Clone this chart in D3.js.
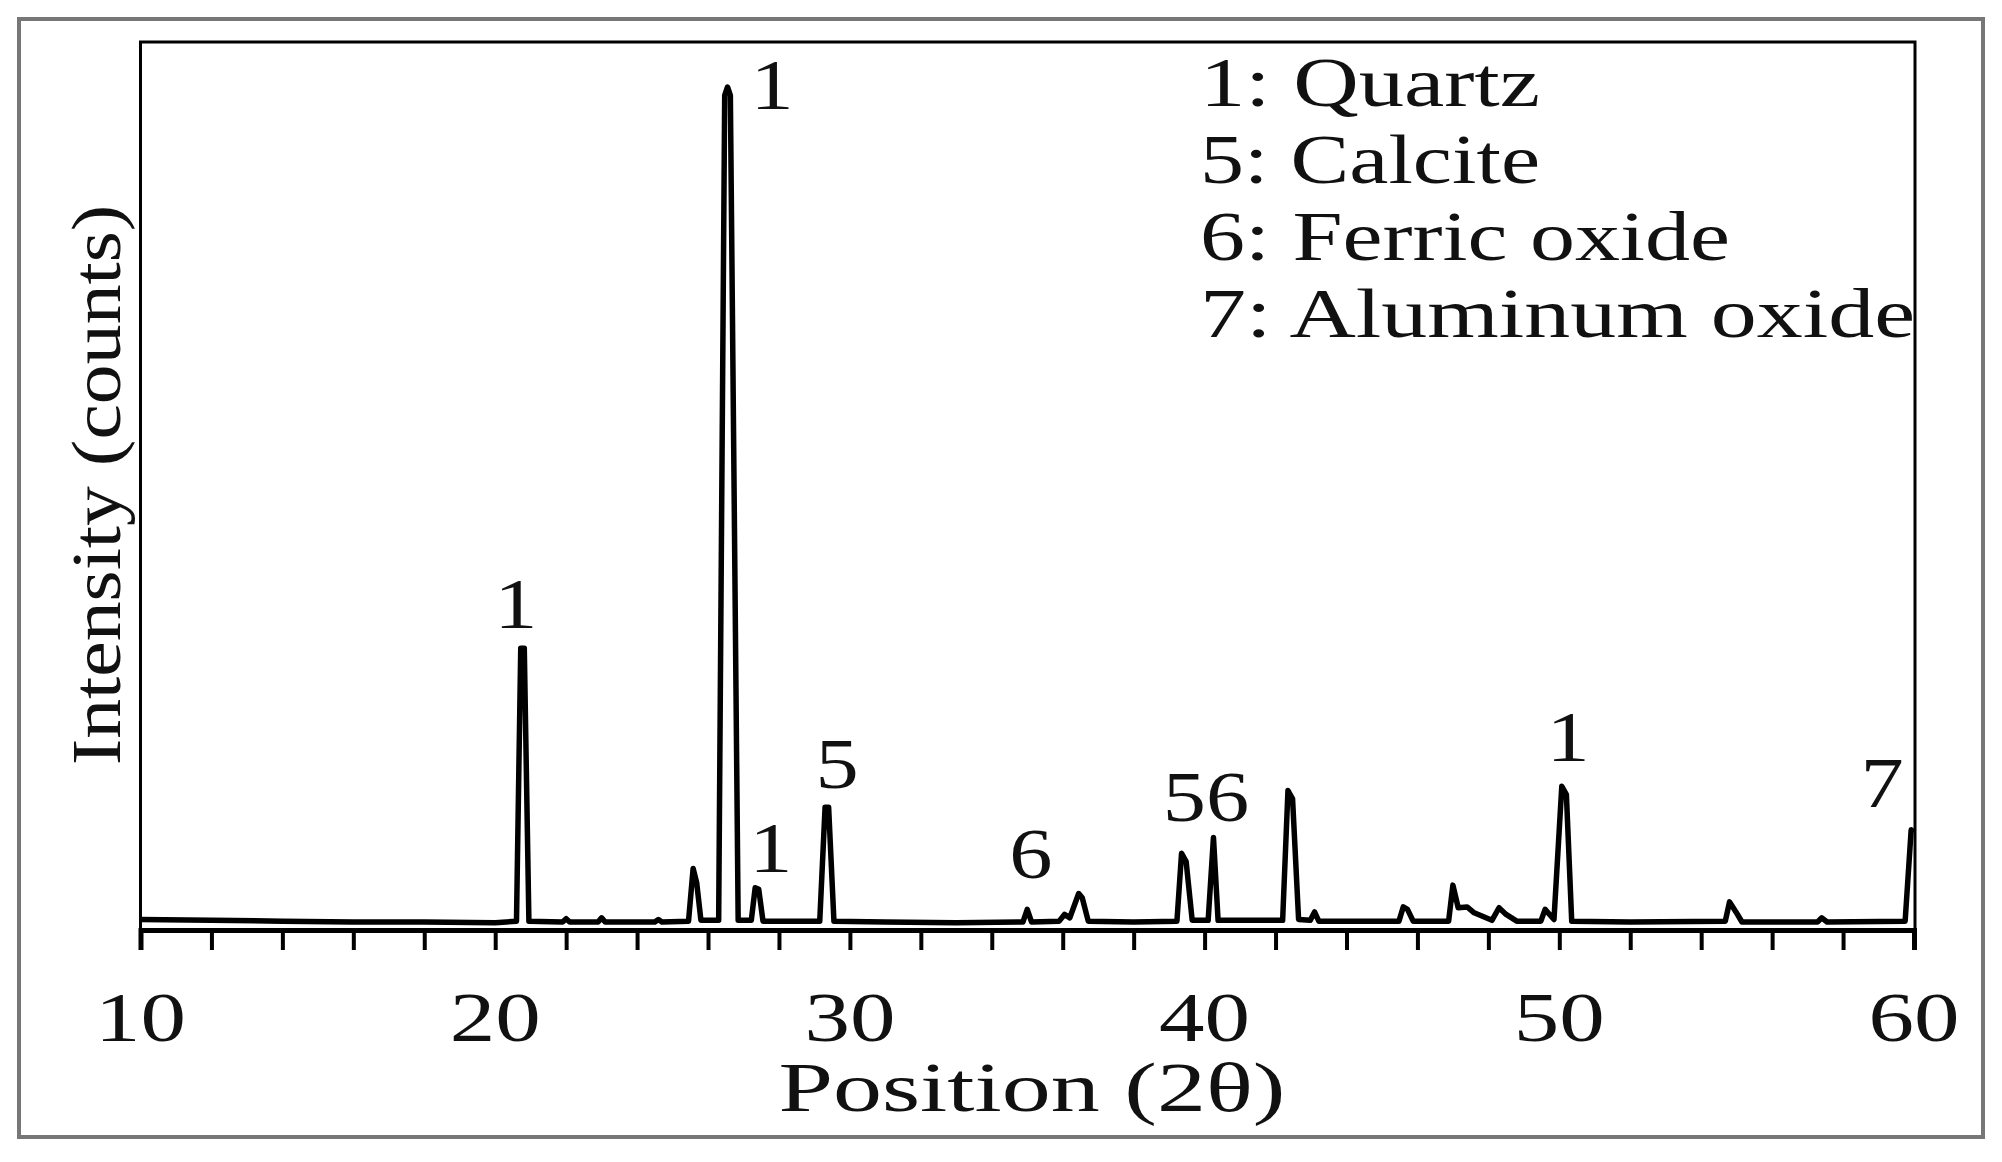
<!DOCTYPE html>
<html><head><meta charset="utf-8">
<script src="https://cdn.jsdelivr.net/npm/d3@7"></script>
<style>body{margin:0;background:#fff}svg{display:block}text{font-family:"Liberation Serif","DejaVu Serif",serif;fill:#111}</style>
</head><body><svg id="c" width="2002" height="1162"></svg>
<script>
// XRD pattern points [2θ, intensity]
const pattern = [
[10,0.6],[12,0.5],[14,0.4],[16,0.3],[18,0.3],[20,0.2],[20.6,0.4],[20.72,33],[20.82,33],[20.95,0.4],
[21.9,0.3],[22,0.7],[22.1,0.3],[22.9,0.3],[23,0.8],[23.1,0.3],[24.5,0.3],[24.6,0.6],[24.7,0.3],
[25.45,0.4],[25.58,6.7],[25.68,5],[25.8,0.5],[26.3,0.5],[26.47,99],[26.55,100],[26.63,99],[26.85,0.5],
[27.22,0.5],[27.33,4.4],[27.43,4.2],[27.55,0.4],[29.15,0.4],[29.3,14],[29.4,14],[29.55,0.4],
[31,0.3],[33,0.2],[34.88,0.3],[35,1.8],[35.12,0.3],[35.9,0.4],[36.05,1.2],[36.2,0.8],[36.45,3.7],[36.55,3.2],[36.72,0.4],
[38,0.3],[39.22,0.4],[39.35,8.5],[39.48,7.5],[39.65,0.5],[40.1,0.5],[40.25,10.4],[40.38,0.5],
[42.2,0.5],[42.35,16],[42.48,15],[42.65,0.6],[42.98,0.5],[43.1,1.5],[43.22,0.4],
[45.48,0.4],[45.6,2.1],[45.72,1.8],[45.88,0.4],[46.88,0.4],[47,4.7],[47.15,2],[47.4,2.1],[47.6,1.4],[48.1,0.5],[48.3,2],[48.5,1.2],[48.8,0.4],
[49.48,0.4],[49.6,1.8],[49.85,0.6],[50.07,16.5],[50.2,15.5],[50.35,0.4],[52,0.3],
[54.68,0.4],[54.8,2.7],[54.98,1.5],[55.15,0.3],[57.28,0.3],[57.4,0.8],[57.55,0.3],[59.75,0.4],[59.92,11.3],[60,11]
];
const peakLabels = [
{t:"1",x:20.58,y:35.4},{t:"1",x:27.81,y:97.4},{t:"1",x:27.77,y:6.25},{t:"5",x:29.64,y:16.3},
{t:"6",x:35.1,y:5.6},{t:"56",x:40.04,y:12.3},{t:"1",x:50.25,y:19.5},{t:"7",x:59.1,y:14.0}
];
const legendItems = ["1: Quartz","5: Calcite","6: Ferric oxide","7: Aluminum oxide"];
const xTicks = [10,20,30,40,50,60];
const xTitle = "Position (2θ)", yTitle = "Intensity (counts)";

const svg = d3.select("#c");
svg.append("rect").attr("x",19).attr("y",19).attr("width",1964).attr("height",1118)
  .attr("fill","none").attr("stroke","#777").attr("stroke-width",4);
const L=140.5,R=1915,T=42,B=930;
const x = d3.scaleLinear().domain([10,60]).range([L,R-1]);
const y = d3.scaleLinear().domain([0,100]).range([924.5,87]);
svg.append("rect").attr("x",L).attr("y",T).attr("width",R-L).attr("height",B-T)
  .attr("fill","none").attr("stroke","#000").attr("stroke-width",3);
const ax = svg.append("g").attr("transform",`translate(0,${B})`)
  .call(d3.axisBottom(x).tickValues(d3.range(10,60.01,2)).tickSize(20).tickFormat(""));
ax.select(".domain").attr("stroke-width",5);
ax.selectAll(".tick line").attr("stroke-width",4);
const stretch = (sel, k) => sel.each(function(){
  const w = this.getComputedTextLength();
  d3.select(this).attr("textLength", w*k).attr("lengthAdjust","spacingAndGlyphs");
});
svg.selectAll(".xl").data(xTicks).join("text").attr("x",d=>x(d)).attr("y",1041)
  .attr("text-anchor","middle").attr("font-size",70).text(d=>d).call(stretch,1.3);
svg.append("path").datum(pattern).attr("fill","none").attr("stroke","#000")
  .attr("stroke-width",5.5).attr("stroke-linejoin","round")
  .attr("d",d3.line().x(d=>x(d[0])).y(d=>y(d[1])));
svg.selectAll(".pl").data(peakLabels).join("text").attr("x",d=>x(d.x)).attr("y",d=>y(d.y))
  .attr("text-anchor","middle").attr("font-size",72).text(d=>d.t).call(stretch,1.2);
svg.selectAll(".lg").data(legendItems).join("text").attr("x",1200).attr("y",(d,i)=>106+i*77)
  .attr("font-size",70).attr("lengthAdjust","spacingAndGlyphs")
  .attr("textLength",(d,i)=>[340,340,530,715][i]).text(d=>d);
svg.append("text").attr("x",1032).attr("y",1111).attr("text-anchor","middle").attr("font-size",70).text(xTitle).call(stretch,1.4);
svg.append("text").attr("transform","translate(120,485) rotate(-90)").attr("text-anchor","middle")
  .attr("font-size",70).text(yTitle).call(stretch,1.14);
</script></body></html>
